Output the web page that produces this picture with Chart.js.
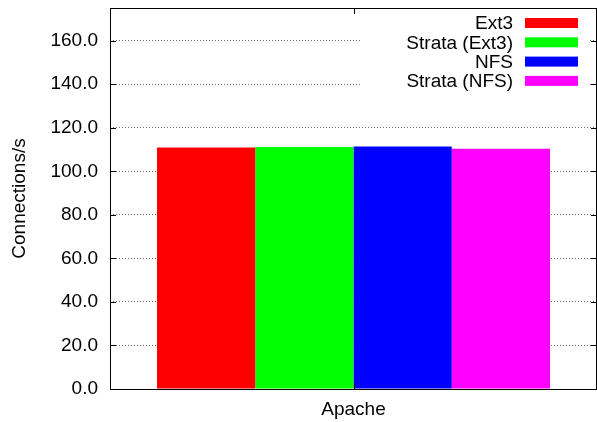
<!DOCTYPE html>
<html>
<head>
<meta charset="utf-8">
<script src="https://cdn.jsdelivr.net/npm/chart.js@4/dist/chart.umd.min.js"></script>
<style>
  html, body { margin: 0; padding: 0; background: #fff; }
  #c { display: block; }
</style>
</head>
<body>
<canvas id="c" width="597" height="422"></canvas>
<script>
// data
const categories = ['Apache'];
const seriesNames = ['Ext3', 'Strata (Ext3)', 'NFS', 'Strata (NFS)'];
const seriesColors = ['#ff0000', '#00ff00', '#0000ff', '#ff00ff'];
const ext3 = [110.9];
const strataExt3 = [111.2];
const nfs = [111.4];
const strataNfs = [110.3];
const seriesValues = [ext3, strataExt3, nfs, strataNfs];
const yTicks = [0, 20, 40, 60, 80, 100, 120, 140, 160];

const FONT = '"Liberation Sans", Arial, Helvetica, sans-serif';

// gnuplot-ish frame, inward ticks and the boxed key
const framePlugin = {
  id: 'frame',
  afterDraw(chart) {
    const { ctx, chartArea: a, scales } = chart;
    ctx.save();
    ctx.strokeStyle = '#000';
    ctx.lineWidth = 1;
    ctx.setLineDash([]);
    // inward tick marks on left and right
    ctx.beginPath();
    yTicks.forEach(v => {
      const y = Math.round(scales.y.getPixelForValue(v)) + 0.5;
      ctx.moveTo(a.left, y); ctx.lineTo(a.left + 6, y);
      ctx.moveTo(a.right, y); ctx.lineTo(a.right - 6, y);
    });
    const cx = Math.round(scales.x.getPixelForValue(0)) + 0.5;
    ctx.moveTo(cx, a.top); ctx.lineTo(cx, a.top + 6);
    ctx.moveTo(cx, a.bottom); ctx.lineTo(cx, a.bottom - 6);
    ctx.stroke();

    // key
    ctx.fillStyle = '#fff';
    ctx.fillRect(362, 12, 226, 80);
    ctx.font = '19px ' + FONT;
    ctx.textAlign = 'right';
    ctx.textBaseline = 'middle';
    seriesNames.forEach((name, i) => {
      const y = 23 + i * 19.3;
      ctx.fillStyle = '#000';
      ctx.fillText(name, 513, y + 1);
      ctx.fillStyle = seriesColors[i];
      ctx.fillRect(525, y - 5, 53, 10);
    });

    ctx.strokeStyle = '#000';
    ctx.strokeRect(a.left + 0.5, a.top + 0.5, a.right - a.left - 1, a.bottom - a.top);
    ctx.restore();
  }
};

new Chart(document.getElementById('c'), {
  type: 'bar',
  data: {
    labels: categories,
    datasets: seriesNames.map((name, i) => ({
      label: name,
      data: seriesValues[i],
      backgroundColor: seriesColors[i],
      borderWidth: 0,
      categoryPercentage: 0.807,
      barPercentage: 1.0
    }))
  },
  options: {
    responsive: false,
    animation: false,
    layout: { padding: { top: 8, right: 0, left: 0, bottom: 0 } },
    plugins: {
      legend: { display: false },
      tooltip: { enabled: false }
    },
    scales: {
      x: {
        grid: { display: false, drawTicks: false },
        border: { display: false },
        ticks: { color: '#000', padding: 9, font: { family: FONT, size: 19 } },
        afterFit(s) { s.height = 33; s.paddingLeft = 0; s.paddingRight = 0; }
      },
      y: {
        min: 0,
        max: 175,
        grid: {
          color: '#666',
          drawTicks: false
        },
        border: { display: false, dash: [1, 2] },
        ticks: {
          stepSize: 20,
          includeBounds: false,
          padding: 12,
          color: '#000',
          font: { family: FONT, size: 19 },
          callback: v => v.toFixed(1)
        },
        title: {
          display: true,
          text: 'Connections/s',
          color: '#000',
          padding: { top: 8, bottom: 0 },
          font: { family: FONT, size: 19 }
        },
        afterFit(s) { s.width = 110; s.paddingTop = 0; s.paddingBottom = 0; }
      }
    }
  },
  plugins: [framePlugin]
});
</script>
</body>
</html>
